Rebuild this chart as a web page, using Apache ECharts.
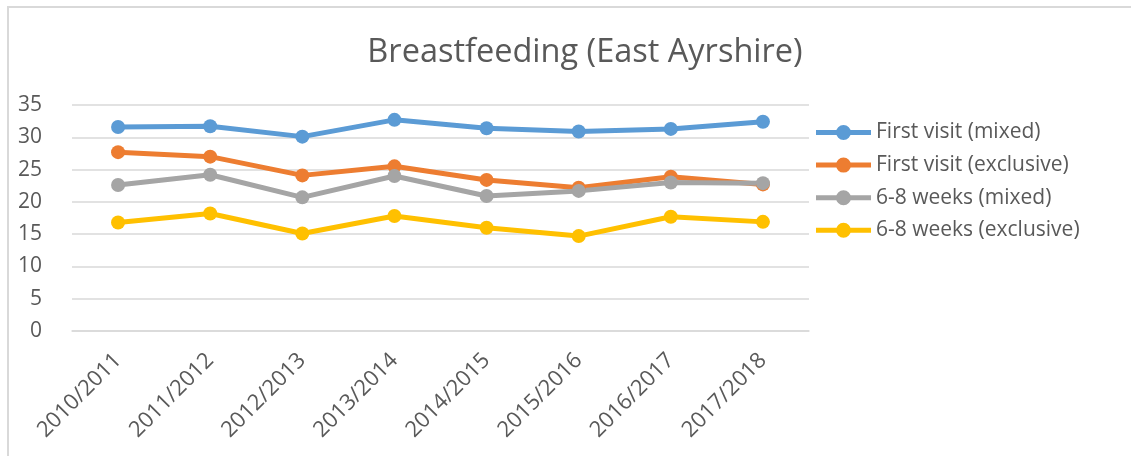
<!DOCTYPE html>
<html>
<head>
<meta charset="utf-8">
<script src="https://cdn.jsdelivr.net/npm/echarts@6/dist/echarts.min.js"></script>
<style>
  html, body { margin: 0; padding: 0; background: #fff; }
  #chart { width: 1131px; height: 456px; }
  .frame {
    position: absolute; left: 7px; top: 6px; width: 1200px; height: 520px;
    border: 2px solid #d9d9d9; pointer-events: none;
  }
</style>
</head>
<body>
<div id="chart"></div>
<div class="frame"></div>
<script>
const categories = ['2010/2011', '2011/2012', '2012/2013', '2013/2014', '2014/2015', '2015/2016', '2016/2017', '2017/2018']
const firstVisitMixed = [31.6, 31.7, 30.1, 32.7, 31.4, 30.9, 31.3, 32.4]
const firstVisitExclusive = [27.7, 27.0, 24.1, 25.5, 23.4, 22.2, 23.9, 22.7]
const weeksMixed = [22.6, 24.2, 20.7, 24.0, 20.9, 21.7, 23.0, 22.9]
const weeksExclusive = [16.8, 18.2, 15.1, 17.8, 16.0, 14.7, 17.7, 16.9]
const yTicks = { min: 0, max: 35, interval: 5 }

const font = '"Open Sans", "Noto Sans", sans-serif'
const textColor = '#595959'
// thick line with a dot in the middle, like the office legend marker
const legendIcon = 'path://M0,5 h55 v5 h-55 Z M20,7.5 a7.5,7.5 0 1,1 15,0 a7.5,7.5 0 1,1 -15,0 Z'

const makeSeries = (name, data, color) => ({
  name,
  type: 'line',
  data,
  symbol: 'circle',
  symbolSize: 14,
  lineStyle: { width: 5, color },
  itemStyle: { color },
  emphasis: { disabled: true }
})

const chart = echarts.init(document.getElementById('chart'))

chart.setOption({
  animation: false,
  textStyle: { fontFamily: font, color: textColor },
  title: {
    text: 'Breastfeeding (East Ayrshire)',
    left: 580,
    textAlign: 'center',
    top: 31,
    textStyle: { fontSize: 32.5, fontWeight: 'normal', color: textColor, fontFamily: font }
  },
  legend: {
    orient: 'vertical',
    left: 811,
    top: 117,
    itemWidth: 55,
    itemHeight: 15,
    itemGap: 11.6,
    icon: legendIcon,
    textStyle: { fontSize: 21, color: textColor, fontFamily: font },
    data: ['First visit (mixed)', 'First visit (exclusive)', '6-8 weeks (mixed)', '6-8 weeks (exclusive)']
  },
  grid: { left: 72, right: 322, top: 105, bottom: 125 },
  xAxis: {
    type: 'category',
    data: categories,
    axisLine: { show: true, lineStyle: { color: '#d9d9d9', width: 1.5 } },
    axisTick: { show: false },
    axisLabel: { rotate: 45, fontSize: 22, color: textColor, fontFamily: font, margin: 26 }
  },
  yAxis: {
    type: 'value',
    min: yTicks.min,
    max: yTicks.max,
    interval: yTicks.interval,
    axisLine: { show: false },
    axisTick: { show: false },
    axisLabel: { fontSize: 21, color: textColor, fontFamily: font, margin: 30 },
    splitLine: { lineStyle: { color: '#d9d9d9', width: 1.5 } }
  },
  series: [
    makeSeries('First visit (mixed)', firstVisitMixed, '#5B9BD5'),
    makeSeries('First visit (exclusive)', firstVisitExclusive, '#ED7D31'),
    makeSeries('6-8 weeks (mixed)', weeksMixed, '#A5A5A5'),
    makeSeries('6-8 weeks (exclusive)', weeksExclusive, '#FFC000')
  ]
})
</script>
</body>
</html>
